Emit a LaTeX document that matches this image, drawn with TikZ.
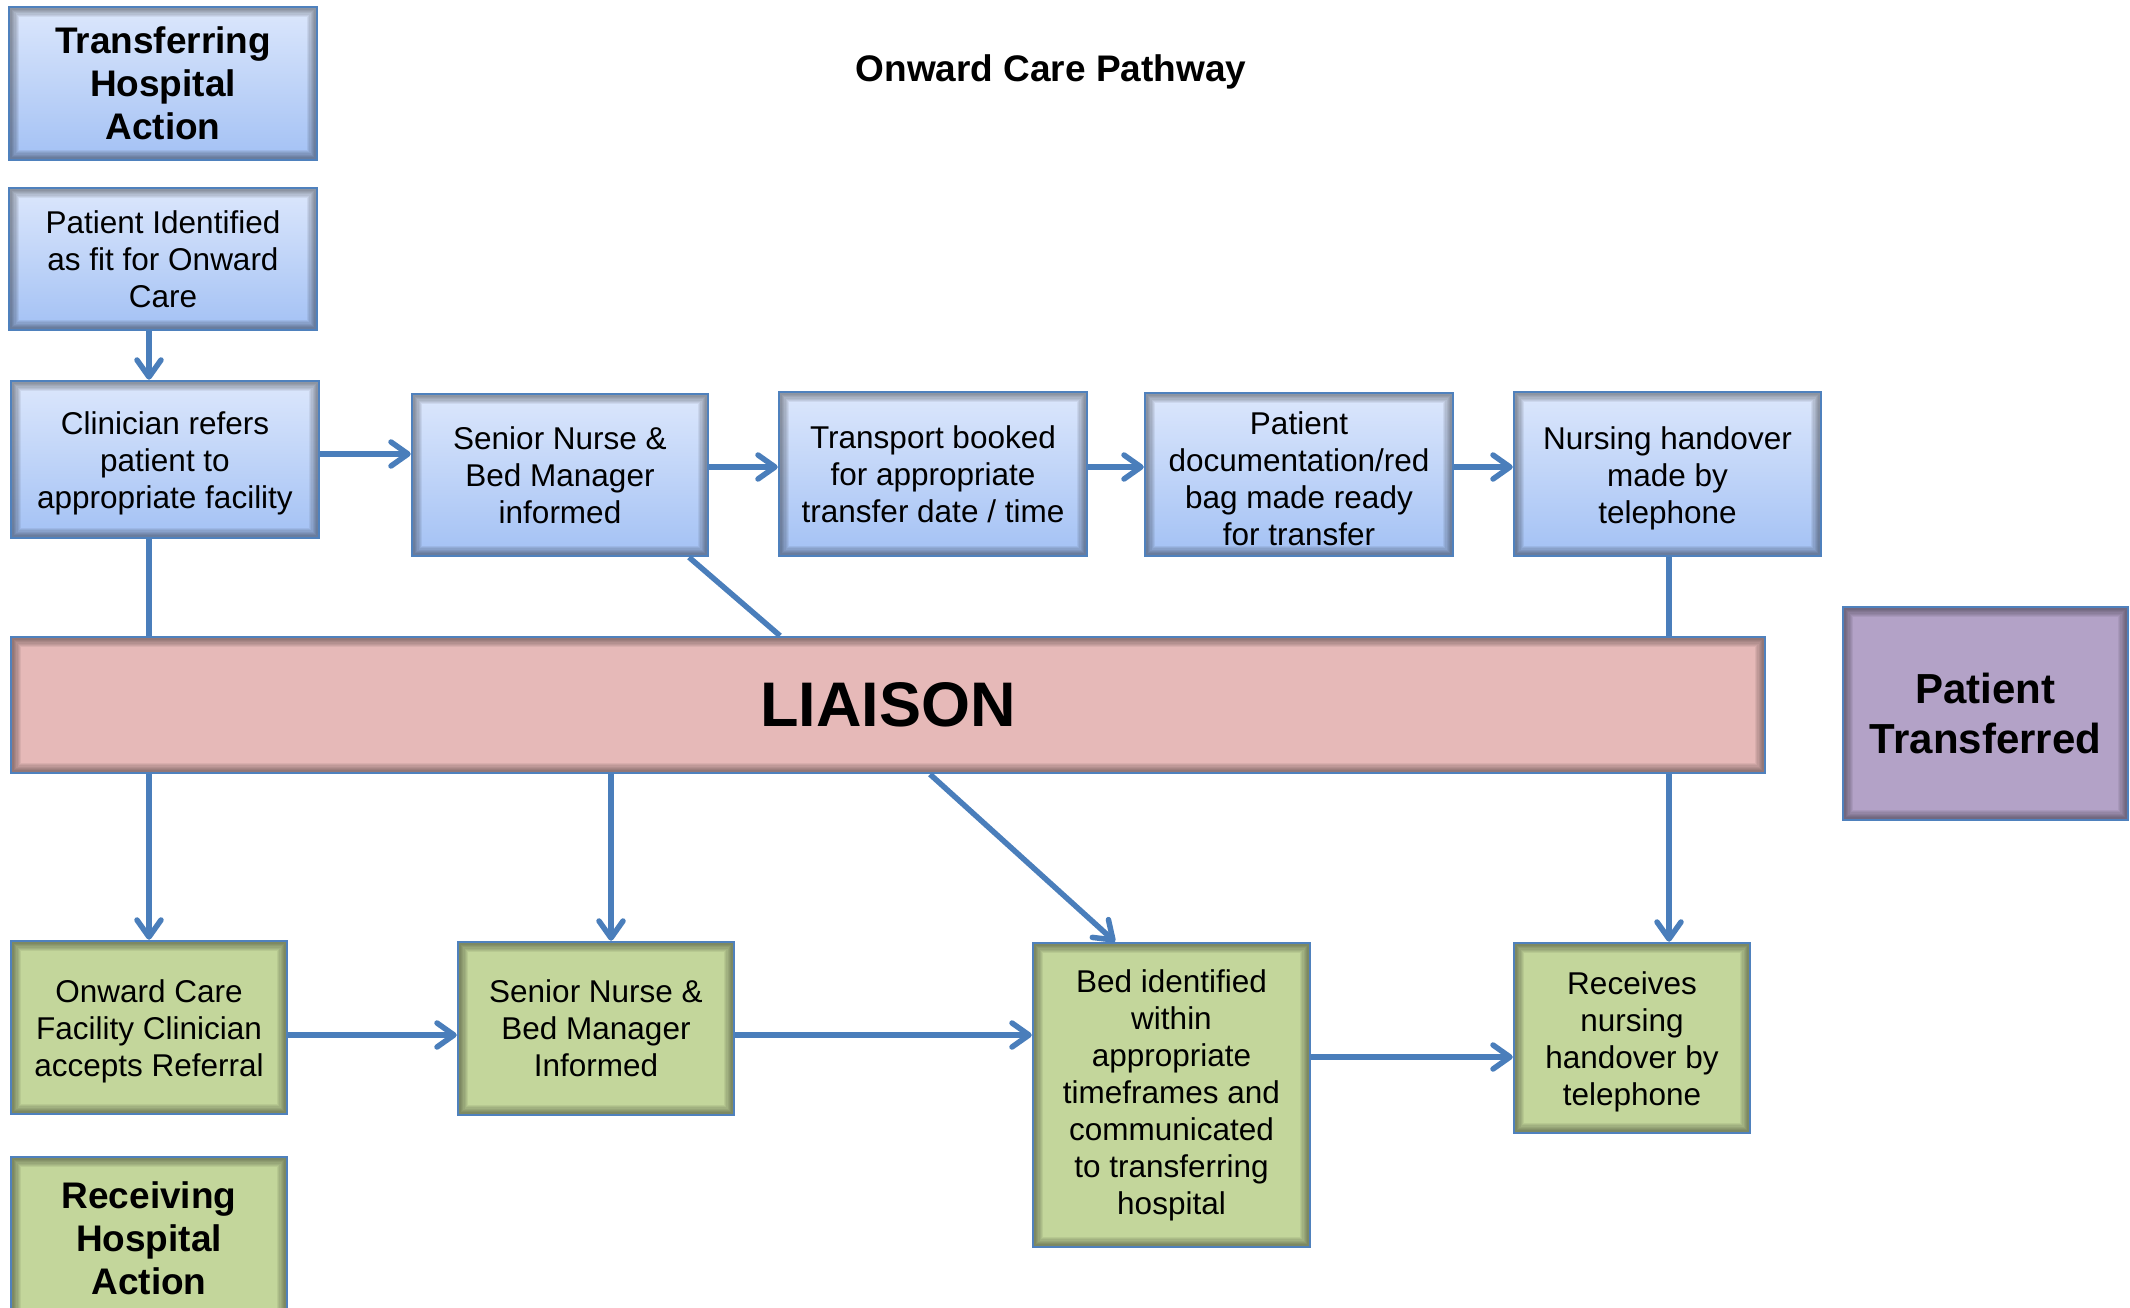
\documentclass[tikz,border=0pt]{standalone}
\usepackage{fontspec}
\setmainfont{Liberation Sans}
\usetikzlibrary{arrows.meta}
\definecolor{lineblue}{HTML}{4A7EBB}
\definecolor{edgeblue}{HTML}{4F81BD}
\definecolor{bluetop}{HTML}{DCE7FC}
\definecolor{bluebot}{HTML}{A3C1F4}
\definecolor{greenfill}{HTML}{C3D69B}
\definecolor{pinkfill}{HTML}{E6B9B8}
\definecolor{purplefill}{HTML}{B3A2C7}
\newcommand{\bxtop}{\rule{0pt}{1em}}
\tikzset{
  innershadow/.style={path picture={
    \foreach \k [evaluate=\k as \w using \k*2.6] in {1,...,8}{
      \draw[black,opacity=0.06,line width=\w pt]
        (path picture bounding box.south west) rectangle (path picture bounding box.north east);
    }}},
  box/.style={draw=edgeblue, line width=2.5pt, innershadow, align=center, inner sep=0pt,
    font=\fontsize{31.5}{37}\selectfont},
  bluebox/.style={box, top color=bluetop, bottom color=bluebot},
  greenbox/.style={box, fill=greenfill},
  headfont/.style={font=\bfseries\fontsize{37}{43}\selectfont},
  flow/.style={draw=lineblue, line width=5.5pt},
  arr/.style={flow, -{Straight Barb[length=17pt,width=24pt,round]}},
}
\begin{document}
\begin{tikzpicture}[x=1pt,y=-1pt]
\useasboundingbox (0,0) rectangle (2130,1308);

\node[headfont] (title) at (1051,72) {Onward Care Pathway};

% transferring hospital (top row)
\node[bluebox, headfont, minimum width=308pt, minimum height=153pt] (trans) at (163,83.5)
  {Transferring\\Hospital\\Action};
\node[bluebox, minimum width=308pt, minimum height=142pt] (pid) at (163,259)
  {Patient Identified\\as fit for Onward\\Care};
\node[bluebox, minimum width=308pt, minimum height=157pt] (clin) at (165,459.5)
  {\bxtop Clinician refers\\patient to\\appropriate facility};
\node[bluebox, minimum width=296pt, minimum height=162pt] (snA) at (560,475)
  {Senior Nurse \&\\Bed Manager\\informed};
\node[bluebox, minimum width=308pt, minimum height=164pt] (trp) at (933,474)
  {Transport booked\\for appropriate\\transfer date / time};
\node[bluebox, minimum width=308pt, minimum height=163pt] (doc) at (1299,474.5)
  {\bxtop Patient\\documentation/red\\bag made ready\\for transfer};
\node[bluebox, minimum width=307pt, minimum height=164pt] (nurse) at (1667.5,474)
  {\bxtop Nursing handover\\made by\\telephone};

% liaison
\node[box, fill=pinkfill, minimum width=1754pt, minimum height=136pt,
  font=\bfseries\fontsize{63}{70}\selectfont] (liaison) at (888,705) {LIAISON};

\node[box, fill=purplefill, minimum width=285pt, minimum height=213pt,
  font=\bfseries\fontsize{42}{50}\selectfont] (ptrans) at (1985.5,713.5) {Patient\\Transferred};

% receiving hospital (bottom row)
\node[greenbox, minimum width=276pt, minimum height=173pt] (onward) at (149,1027.5)
  {\bxtop Onward Care\\Facility Clinician\\accepts Referral};
\node[greenbox, minimum width=276pt, minimum height=173pt] (snB) at (596,1028.5)
  {Senior Nurse \&\\Bed Manager\\Informed};
\node[greenbox, minimum width=277pt, minimum height=304pt] (bed) at (1171.5,1095)
  {Bed identified\\within\\appropriate\\timeframes and\\communicated\\to transferring\\hospital};
\node[greenbox, minimum width=236pt, minimum height=190pt] (recv) at (1632,1038)
  {\bxtop Receives\\nursing\\handover by\\telephone};
\node[greenbox, headfont, minimum width=276pt, minimum height=163pt] (rha) at (149,1238.5)
  {Receiving\\Hospital\\Action};

% connectors
\draw[arr] ([xshift=-14pt]pid.south) -- ([xshift=-14pt]pid.south |- clin.north);
\draw[arr] (clin.east |- 0,454) -- (snA.west |- 0,454);
\draw[arr] (snA.east |- 0,467) -- (trp.west |- 0,467);
\draw[arr] (trp.east |- 0,467) -- (doc.west |- 0,467);
\draw[arr] (doc.east |- 0,467) -- (nurse.west |- 0,467);
\draw[flow] (clin.south -| 149,0) -- (liaison.north -| 149,0);
\draw[flow] (snA.south -| 689,0) -- (liaison.north -| 780,0);
\draw[flow] (nurse.south -| 1669,0) -- (liaison.north -| 1669,0);
\draw[arr] (liaison.south -| 149,0) -- (onward.north -| 149,0);
\draw[arr] (liaison.south -| 611,0) -- (snB.north -| 611,0);
\draw[arr] (liaison.south -| 930,0) -- (bed.north -| 1115,0);
\draw[arr] (liaison.south -| 1669,0) -- (recv.north -| 1669,0);
\draw[arr] (onward.east |- 0,1035) -- (snB.west |- 0,1035);
\draw[arr] (snB.east |- 0,1035) -- (bed.west |- 0,1035);
\draw[arr] (bed.east |- 0,1057) -- (recv.west |- 0,1057);
\end{tikzpicture}
\end{document}
